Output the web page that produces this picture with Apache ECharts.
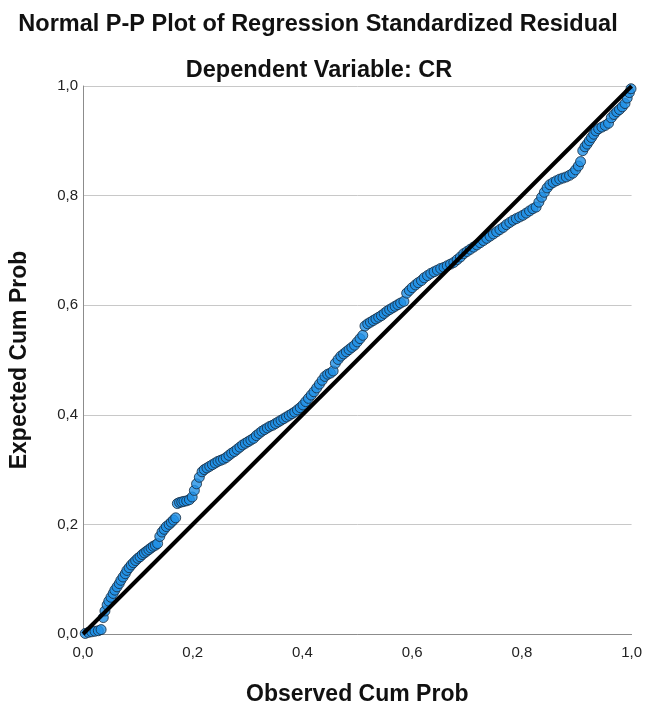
<!DOCTYPE html>
<html>
<head>
<meta charset="utf-8">
<script src="https://cdn.jsdelivr.net/npm/echarts@6/dist/echarts.min.js"></script>
<style>
  html, body { margin: 0; padding: 0; background: #fff; }
  #chart { width: 645px; height: 711px; }
</style>
</head>
<body>
<div id="chart"></div>
<script>
// 观测累积概率 (x)
const observed = [
  0.004, 0.010, 0.016, 0.022, 0.028, 0.033, 0.037, 0.040, 0.044, 0.047,
  0.051, 0.055, 0.058, 0.062, 0.066, 0.069, 0.073, 0.077, 0.080, 0.084,
  0.088, 0.092, 0.096, 0.100, 0.104, 0.108, 0.112, 0.116, 0.120, 0.124,
  0.128, 0.132, 0.136, 0.140, 0.144, 0.148, 0.152, 0.157, 0.161, 0.165,
  0.169, 0.172, 0.176, 0.180, 0.184, 0.189, 0.194, 0.199, 0.203, 0.207,
  0.212, 0.217, 0.221, 0.226, 0.231, 0.236, 0.241, 0.246, 0.251, 0.256,
  0.261, 0.266, 0.271, 0.276, 0.281, 0.286, 0.291, 0.296, 0.301, 0.306,
  0.311, 0.316, 0.321, 0.326, 0.331, 0.336, 0.341, 0.346, 0.351, 0.356,
  0.361, 0.366, 0.371, 0.376, 0.381, 0.386, 0.391, 0.396, 0.401, 0.406,
  0.411, 0.416, 0.421, 0.426, 0.431, 0.436, 0.441, 0.446, 0.451, 0.456,
  0.460, 0.465, 0.470, 0.475, 0.480, 0.485, 0.490, 0.495, 0.500, 0.505,
  0.510, 0.514, 0.519, 0.524, 0.529, 0.534, 0.539, 0.544, 0.549, 0.554,
  0.559, 0.564, 0.569, 0.574, 0.579, 0.585, 0.590, 0.595, 0.600, 0.606,
  0.611, 0.617, 0.622, 0.628, 0.634, 0.640, 0.646, 0.652, 0.658, 0.664,
  0.670, 0.676, 0.682, 0.688, 0.694, 0.700, 0.706, 0.712, 0.718, 0.724,
  0.730, 0.736, 0.742, 0.748, 0.754, 0.760, 0.766, 0.772, 0.778, 0.784,
  0.790, 0.796, 0.802, 0.808, 0.814, 0.820, 0.826, 0.831, 0.836, 0.841,
  0.846, 0.851, 0.857, 0.863, 0.869, 0.875, 0.881, 0.887, 0.893, 0.898,
  0.903, 0.907, 0.911, 0.915, 0.919, 0.923, 0.927, 0.931, 0.935, 0.940,
  0.946, 0.952, 0.958, 0.963, 0.968, 0.973, 0.978, 0.983, 0.988, 0.992,
  0.996, 0.999
]

// 期望累积概率 (y)
const expected = [
  0.001, 0.003, 0.004, 0.005, 0.006, 0.008, 0.030, 0.042, 0.053, 0.060,
  0.067, 0.074, 0.080, 0.086, 0.092, 0.098, 0.104, 0.110, 0.116, 0.121,
  0.126, 0.130, 0.134, 0.138, 0.141, 0.145, 0.148, 0.151, 0.154, 0.157,
  0.160, 0.162, 0.165, 0.178, 0.186, 0.191, 0.196, 0.200, 0.204, 0.208,
  0.212, 0.238, 0.240, 0.241, 0.242, 0.243, 0.245, 0.250, 0.262, 0.274,
  0.286, 0.296, 0.300, 0.303, 0.306, 0.309, 0.312, 0.315, 0.317, 0.319,
  0.322, 0.326, 0.330, 0.333, 0.337, 0.341, 0.345, 0.348, 0.351, 0.354,
  0.357, 0.362, 0.366, 0.370, 0.373, 0.376, 0.379, 0.381, 0.384, 0.387,
  0.390, 0.393, 0.396, 0.399, 0.402, 0.405, 0.409, 0.413, 0.418, 0.424,
  0.430, 0.436, 0.442, 0.449, 0.456, 0.463, 0.470, 0.474, 0.476, 0.480,
  0.494, 0.501, 0.507, 0.511, 0.515, 0.519, 0.523, 0.527, 0.533, 0.539,
  0.545, 0.562, 0.566, 0.569, 0.572, 0.575, 0.578, 0.581, 0.585, 0.589,
  0.592, 0.595, 0.598, 0.601, 0.604, 0.607, 0.622, 0.627, 0.632, 0.637,
  0.641, 0.645, 0.650, 0.654, 0.658, 0.661, 0.664, 0.667, 0.669, 0.672,
  0.675, 0.678, 0.683, 0.688, 0.694, 0.698, 0.702, 0.706, 0.710, 0.714,
  0.718, 0.722, 0.726, 0.730, 0.734, 0.738, 0.742, 0.747, 0.751, 0.755,
  0.758, 0.761, 0.764, 0.768, 0.772, 0.776, 0.779, 0.788, 0.797, 0.806,
  0.814, 0.820, 0.824, 0.827, 0.830, 0.832, 0.834, 0.837, 0.841, 0.847,
  0.854, 0.862, 0.882, 0.889, 0.894, 0.900, 0.906, 0.912, 0.918, 0.922,
  0.925, 0.928, 0.932, 0.942, 0.948, 0.953, 0.957, 0.962, 0.968, 0.978,
  0.988, 0.995
]

// 参考线 (对角线)
const refLine = [[0, 0], [1, 1]]

const FONT = 'Liberation Sans, Arial, sans-serif'
const tickFmt = v => v.toFixed(1).replace('.', ',')

const chart = echarts.init(document.getElementById('chart'))

const option = {
  backgroundColor: '#fff',
  animation: false,
  title: [
    {
      text: 'Normal P-P Plot of Regression Standardized Residual',
      left: 313,
      textAlign: 'center',
      top: 8,
      textStyle: { fontFamily: FONT, fontSize: 23.5, fontWeight: 'bold', color: '#111' }
    },
    {
      text: 'Dependent Variable: CR',
      left: 314,
      textAlign: 'center',
      top: 54,
      textStyle: { fontFamily: FONT, fontSize: 23.5, fontWeight: 'bold', color: '#111' }
    }
  ],
  grid: { left: 82, right: 13, top: 86, bottom: 75 },
  xAxis: {
    type: 'value',
    min: 0,
    max: 1,
    interval: 0.2,
    name: 'Observed Cum Prob',
    nameLocation: 'middle',
    nameGap: 49,
    nameTextStyle: { fontFamily: FONT, fontSize: 23, fontWeight: 'bold', color: '#111' },
    axisLine: { show: true, lineStyle: { color: '#8c8c8c', width: 1 } },
    axisTick: { show: false },
    splitLine: { show: false },
    axisLabel: { formatter: tickFmt, fontFamily: FONT, fontSize: 15, color: '#222', margin: 11 }
  },
  yAxis: {
    type: 'value',
    min: 0,
    max: 1,
    interval: 0.2,
    name: 'Expected Cum Prob',
    nameLocation: 'middle',
    nameGap: 52,
    nameRotate: 90,
    nameTextStyle: { fontFamily: FONT, fontSize: 23, fontWeight: 'bold', color: '#111' },
    axisLine: { show: true, lineStyle: { color: '#8c8c8c', width: 1 } },
    axisTick: { show: false },
    splitLine: { show: true, lineStyle: { color: '#c8c8c8', width: 1 } },
    axisLabel: { formatter: tickFmt, fontFamily: FONT, fontSize: 15, color: '#222', margin: 5 }
  },
  series: [
    {
      type: 'scatter',
      data: observed.map((x, i) => [x, expected[i]]),
      symbol: 'circle',
      symbolSize: 10,
      clip: false,
      itemStyle: { color: '#1f90e6', borderColor: '#14283c', borderWidth: 1 },
      z: 2
    },
    {
      type: 'line',
      data: refLine,
      symbol: 'none',
      lineStyle: { color: '#000', width: 4 },
      z: 3
    }
  ]
}

chart.setOption(option)
</script>
</body>
</html>
